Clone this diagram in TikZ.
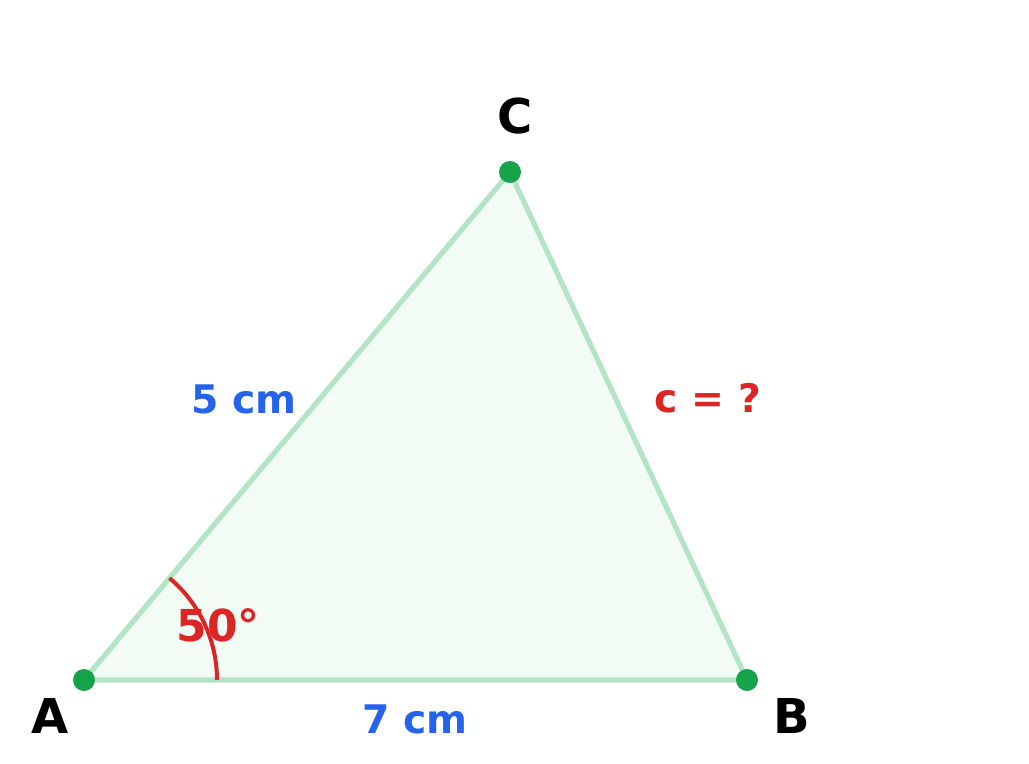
\documentclass[tikz,border=0pt]{standalone}
\usepackage{fontspec}
\setmainfont{DejaVu Sans}
\definecolor{edgegreen}{HTML}{B4E4C6}
\definecolor{fillgreen}{HTML}{F2FCF5}
\definecolor{dotgreen}{HTML}{16A34A}
\definecolor{lblblue}{HTML}{2563EB}
\definecolor{lblred}{HTML}{DC2626}
\tikzset{
  vertexdot/.style={circle,fill=dotgreen,inner sep=0pt,minimum size=16.5pt},
  vlabel/.style={inner sep=0pt,font=\bfseries\fontsize{36}{40}\selectfont,text=black},
  lenlabel/.style={inner sep=0pt,font=\bfseries\fontsize{29.5}{33}\selectfont,text=lblblue},
  redlabel/.style={inner sep=0pt,font=\bfseries\fontsize{29.5}{33}\selectfont,text=lblred},
}
\begin{document}
\begin{tikzpicture}[x=0.75pt,y=-0.75pt]
\useasboundingbox (0,0) rectangle (1029,764);
\coordinate (A) at (84,680);
\coordinate (B) at (747,680);
\coordinate (C) at (510,172);
\draw[edgegreen,line width=3.9pt,fill=fillgreen,line join=round] (A) -- (B) -- (C) -- cycle;
\draw[lblred,line width=3pt] ([shift={(0:133)}]A) arc[start angle=0,end angle=-50,radius=133];
\node[vertexdot] (dA) at (A) {};
\node[vertexdot] (dB) at (B) {};
\node[vertexdot] (dC) at (C) {};
\node[vlabel] (lC) at (515,116) {C};
\node[vlabel] (lA) at (50,716) {A};
\node[vlabel] (lB) at (792,716) {B};
\node[lenlabel] (lAC) at (244,399) {5 cm};
\node[lenlabel] (lAB) at (415,719) {7 cm};
\node[redlabel] (lBC) at (708,398) {c = ?};
\node[redlabel,font=\bfseries\fontsize{33}{36}\selectfont] (lang) at (218,625) {50°};
\end{tikzpicture}
\end{document}
